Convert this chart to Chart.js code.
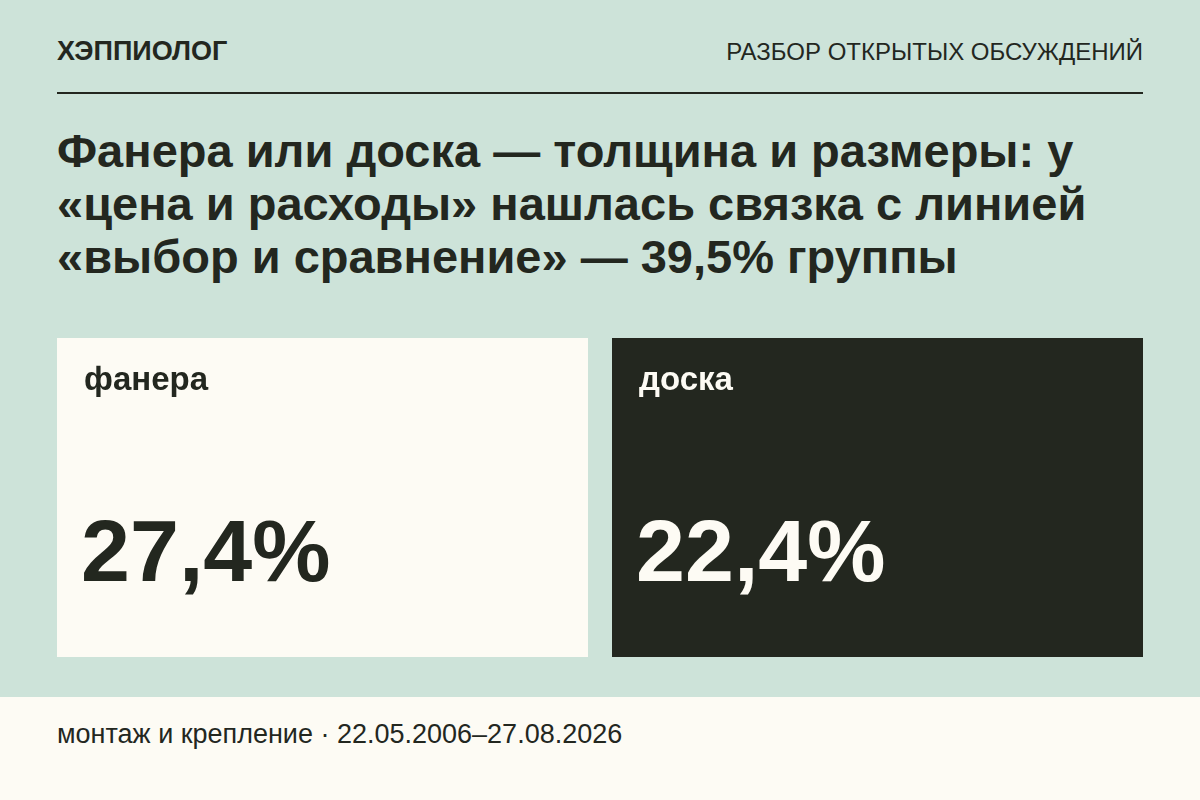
<!DOCTYPE html>
<html lang="ru">
<head>
<meta charset="utf-8">
<script src="https://cdn.jsdelivr.net/npm/chart.js@4"></script>
<style>
  html, body { margin: 0; padding: 0; }
  body {
    width: 1200px; height: 800px; position: relative; overflow: hidden;
    background: #cde3d9; color: #23271f;
    font-family: "Liberation Sans", Arial, sans-serif;
  }
  .brand { position: absolute; left: 57px; top: 38px; font-size: 27px; line-height: 27px; font-weight: bold; }
  .rubric { position: absolute; right: 57px; top: 40px; font-size: 24px; line-height: 24px; }
  .rule { position: absolute; left: 57px; top: 92px; width: 1086px; height: 2px; background: #23271f; }
  .title { position: absolute; left: 57px; top: 124px; width: 1120px; font-size: 47px; line-height: 53px; font-weight: bold; white-space: nowrap; }
  .foot { position: absolute; left: 0; top: 697px; width: 1200px; height: 103px; background: #fdfbf4; }
  .foot span { position: absolute; left: 57px; top: 24px; font-size: 27px; line-height: 27px; }
  .tiles { position: absolute; left: 45px; top: 338px; width: 1110px; height: 319px; }
</style>
</head>
<body>
<div class="brand">ХЭППИОЛОГ</div>
<div class="rubric">РАЗБОР ОТКРЫТЫХ ОБСУЖДЕНИЙ</div>
<div class="rule"></div>
<div class="title">Фанера или доска — толщина и размеры: у<br>«цена и расходы» нашлась связка с линией<br>«выбор и сравнение» — 39,5% группы</div>
<div class="tiles"><canvas id="tilesChart"></canvas></div>
<div class="foot"><span>монтаж и крепление · 22.05.2006–27.08.2026</span></div>

<script>
var categories = ['фанера', 'доска'];
var shares = [27.4, 22.4];

var tileFill = ['#fdfbf4', '#23271f'];
var tileInk = ['#23271f', '#fdfbf4'];

// writes label + big share inside every tile
var tileText = {
  id: 'tileText',
  afterDatasetsDraw: function (chart) {
    var ctx = chart.ctx;
    var meta = chart.getDatasetMeta(0);
    meta.data.forEach(function (bar, i) {
      var left = bar.x - bar.width / 2;
      var top = Math.min(bar.y, bar.base);
      ctx.save();
      ctx.fillStyle = tileInk[i];
      ctx.textBaseline = 'alphabetic';
      ctx.textAlign = 'left';
      ctx.font = 'bold 33px "Liberation Sans", Arial, sans-serif';
      ctx.fillText(categories[i], left + 27, top + 52);
      ctx.font = 'bold 88px "Liberation Sans", Arial, sans-serif';
      ctx.fillText(shares[i].toFixed(1).replace('.', ',') + '%', left + 24, top + 243);
      ctx.restore();
    });
  }
};

new Chart(document.getElementById('tilesChart'), {
  type: 'bar',
  data: {
    labels: categories,
    datasets: [{
      // each tile spans the whole height of the panel
      data: categories.map(function () { return [0, 1]; }),
      backgroundColor: tileFill,
      borderWidth: 0,
      borderSkipped: false,
      barPercentage: 531 / 555,
      categoryPercentage: 1
    }]
  },
  options: {
    responsive: true,
    maintainAspectRatio: false,
    animation: false,
    layout: { padding: 0 },
    plugins: { legend: { display: false }, tooltip: { enabled: false } },
    scales: {
      x: { display: false },
      y: { display: false, min: 0, max: 1 }
    }
  },
  plugins: [tileText]
});
</script>
</body>
</html>
